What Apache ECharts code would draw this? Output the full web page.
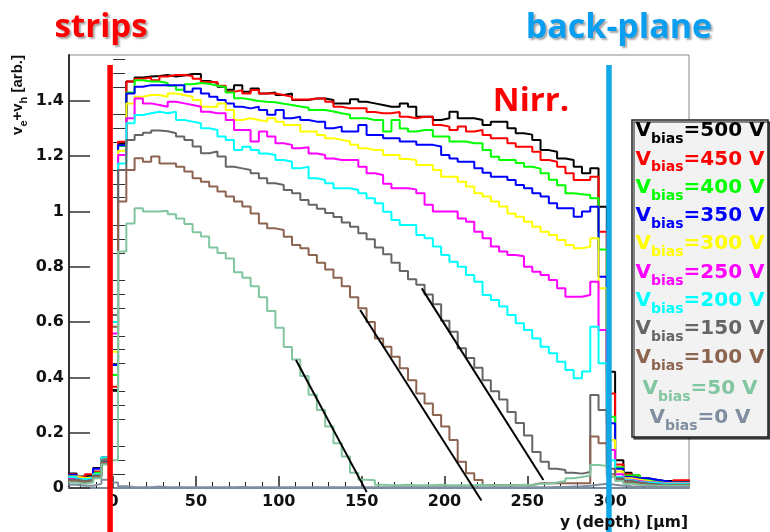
<!DOCTYPE html>
<html><head><meta charset="utf-8">
<script src="https://cdn.jsdelivr.net/npm/echarts@6/dist/echarts.min.js"></script>
<style>html,body{margin:0;padding:0;background:#fff}#c{width:770px;height:532px}</style>
</head><body><div id="c"></div>
<script>
// ---- data ----
const binStart = -27;   // left edge of first bin [um]
const binWidth = 5;     // bin width [um]
const voltages = [500, 450, 400, 350, 300, 250, 200, 150, 100, 50, 0];
const colors = ['#000000', '#ff0000', '#00ff00', '#0000ff', '#ffff00', '#ff00ff', '#00ffff', '#666666', '#8c6450', '#82c6a0', '#7f8fa0'];

const v500 = [0.052,0.042,0.045,0.072,0.110, 0.354,1.245,
1.470,1.485,1.488,1.490,1.494,1.488,1.492,1.497,1.497,
1.472,1.465,1.451,1.440,1.457,1.433,1.445,1.427,1.430,
1.421,1.427,1.403,1.403,1.409,1.409,1.403,1.391,1.391,
1.406,1.397,1.391,1.385,1.379,1.379,1.391,1.379,1.343,1.343,
1.331,1.337,1.361,1.337,1.337,1.331,1.313,1.325,1.325,1.301,
1.283,1.278,1.259,1.222,1.216,1.192,1.186,1.162,1.138,1.156,
1.017,0.420,
0.100,0.055,0.045,0.035,0.030,0.025,0.025,0.025,0.025];
const v450 = [0.050,0.040,0.050,0.060,0.105, 0.366,1.252,
1.470,1.480,1.485,1.475,1.488,1.494,1.494,1.490,1.480,
1.468,1.468,1.455,1.433,1.439,1.427,1.439,1.427,1.427,
1.421,1.415,1.405,1.405,1.409,1.409,1.397,1.379,1.373,
1.373,1.373,1.360,1.355,1.355,1.360,1.343,1.337,1.343,1.343,
1.313,1.307,1.295,1.307,1.289,1.295,1.277,1.265,1.265,1.247,
1.234,1.234,1.216,1.186,1.180,1.162,1.138,1.114,1.114,1.126,
0.927,0.342,
0.085,0.050,0.040,0.030,0.025,0.022,0.020,0.028,0.028];
const v400 = [0.045,0.035,0.040,0.055,0.100, 0.409,1.237,
1.430,1.475,1.470,1.470,1.465,1.455,1.440,1.460,1.465,
1.462,1.455,1.450,1.430,1.410,1.405,1.400,1.397,1.395,
1.390,1.385,1.380,1.375,1.367,1.367,1.362,1.355,1.350,
1.337,1.337,1.331,1.331,1.289,1.331,1.300,1.289,1.295,1.295,
1.271,1.271,1.253,1.253,1.247,1.247,1.222,1.198,1.186,1.186,
1.175,1.162,1.155,1.138,1.115,1.095,1.066,1.062,1.060,1.048,
0.863,0.258,
0.075,0.045,0.045,0.030,0.025,0.020,0.020,0.020,0.020];
const v350 = [0.048,0.035,0.040,0.070,0.095, 0.445,1.240,
1.427,1.451,1.457,1.457,1.457,1.457,1.457,1.433,1.445,
1.427,1.415,1.403,1.391,1.379,1.373,1.379,1.367,1.350,
1.367,1.337,1.343,1.331,1.325,1.325,1.301,1.307,1.289,
1.289,1.313,1.277,1.277,1.265,1.265,1.253,1.253,1.241,1.241,
1.235,1.204,1.192,1.180,1.180,1.156,1.140,1.126,1.126,1.114,
1.096,1.084,1.066,1.054,1.030,1.012,1.012,0.981,1.000,1.017,
0.764,0.234,
0.070,0.040,0.035,0.035,0.030,0.025,0.020,0.020,0.020];
const v300 = [0.042,0.035,0.038,0.050,0.100, 0.493,1.220,
1.391,1.415,1.421,1.421,1.415,1.427,1.421,1.415,1.403,
1.379,1.379,1.391,1.367,1.331,1.337,1.331,1.325,1.337,
1.325,1.313,1.313,1.289,1.289,1.277,1.265,1.259,1.253,
1.241,1.229,1.222,1.222,1.204,1.204,1.190,1.186,1.168,1.168,
1.150,1.126,1.126,1.108,1.090,1.066,1.054,1.036,1.018,0.993,
0.981,0.963,0.945,0.927,0.915,0.897,0.879,0.867,0.873,0.903,
0.722,0.174,
0.060,0.035,0.030,0.025,0.020,0.018,0.018,0.018,0.018];
const v250 = [0.035,0.030,0.032,0.045,0.090, 0.559,1.204,
1.337,1.409,1.391,1.385,1.379,1.397,1.391,1.385,1.379,
1.361,1.355,1.355,1.331,1.295,1.295,1.253,1.289,1.271,
1.247,1.241,1.229,1.232,1.210,1.204,1.192,1.186,1.186,
1.186,1.162,1.138,1.132,1.100,1.084,1.084,1.080,1.066,1.024,
1.000,1.000,1.000,0.975,0.963,0.927,0.903,0.873,0.855,0.843,
0.838,0.800,0.782,0.770,0.752,0.722,0.692,0.692,0.698,0.746,
0.571,0.137,
0.050,0.030,0.025,0.022,0.020,0.016,0.016,0.016,0.016];
const v200 = [0.040,0.032,0.035,0.050,0.110, 0.600,1.174,
1.319,1.349,1.355,1.361,1.355,1.361,1.331,1.325,1.319,
1.301,1.295,1.271,1.259,1.222,1.234,1.222,1.210,1.204,
1.186,1.180,1.156,1.162,1.120,1.114,1.102,1.084,1.084,
1.078,1.066,1.048,1.030,0.999,0.969,0.951,0.951,0.915,0.903,
0.873,0.843,0.818,0.800,0.770,0.746,0.698,0.680,0.656,0.626,
0.596,0.571,0.541,0.511,0.487,0.457,0.427,0.397,0.421,0.583,
0.451,0.100,
0.040,0.028,0.022,0.020,0.018,0.015,0.015,0.015,0.015];
const v150 = [0.030,0.025,0.030,0.045,0.100, 0.626,1.150,
1.259,1.277,1.285,1.293,1.290,1.283,1.271,1.259,1.235,
1.211,1.217,1.199,1.162,1.156,1.150,1.138,1.120,1.102,
1.096,1.078,1.066,1.042,1.024,1.010,0.995,0.980,0.960,
0.945,0.921,0.900,0.870,0.845,0.815,0.785,0.755,0.735,0.700,
0.665,0.605,0.565,0.505,0.470,0.435,0.390,0.350,0.320,0.275,
0.235,0.190,0.130,0.095,0.070,0.065,0.055,0.052,0.058,0.336,
0.282,0.070,
0.035,0.025,0.020,0.016,0.014,0.012,0.012,0.012,0.012];
const v100 = [0.025,0.020,0.025,0.040,0.090, 0.583,1.036,
1.150,1.193,1.180,1.199,1.174,1.174,1.162,1.145,1.120,
1.108,1.090,1.072,1.054,1.036,1.018,0.993,0.957,0.939,
0.933,0.909,0.879,0.867,0.843,0.815,0.790,0.760,0.730,
0.690,0.650,0.600,0.541,0.511,0.475,0.433,0.390,0.342,0.306,
0.264,0.222,0.174,0.095,0.053,0.029,0.011,0.011,0.011,0.011,
0.011,0.011,0.017,0.017,0.017,0.017,0.017,0.017,0.017,0.186,
0.162,0.050,
0.030,0.020,0.015,0.012,0.010,0.010,0.010,0.010,0.010];
const v50 = [0.020,0.015,0.020,0.035,0.085, 0.100,0.855,
0.957,1.012,1.000,1.000,1.003,0.990,0.975,0.955,0.925,
0.910,0.870,0.850,0.830,0.780,0.760,0.730,0.690,0.640,
0.580,0.510,0.465,0.405,0.337,0.282,0.222,0.162,0.114,
0.055,0.030,0.028,0.012,0.010,0.010,0.012,0.010,0.010,0.010,
0.012,0.010,0.010,0.010,0.010,0.012,0.010,0.010,0.010,0.010,
0.012,0.010,0.015,0.015,0.020,0.025,0.035,0.040,0.045,0.083,
0.080,0.040,
0.025,0.015,0.012,0.010,0.008,0.008,0.008,0.008,0.008];
const v0 = [0.012,0.008,0.008,0.015,0.030, 0.020,0.006,
0.004,0.003,0.003,0.005,0.003,0.003,0.003,0.003,0.003,
0.003,0.003,0.003,0.003,0.004,0.003,0.003,0.003,0.003,
0.003,0.003,0.003,0.003,0.003,0.003,0.003,0.003,0.003,
0.003,0.003,0.003,0.003,0.003,0.003,0.003,0.003,0.003,0.003,
0.003,0.003,0.003,0.003,0.003,0.003,0.003,0.003,0.003,0.003,
0.003,0.003,0.003,0.003,0.004,0.004,0.005,0.006,0.008,0.012,
0.015,0.012,
0.008,0.006,0.005,0.005,0.004,0.004,0.004,0.004,0.004];

// straight-line fits drawn on the falling edges [x, y]
const fit1 = [[110.4, 0.463], [153.1, -0.015]];
const fit2 = [[149.1, 0.644], [222.3, -0.045]];
const fit3 = [[186.3, 0.722], [259.7, 0.029]];

// electrode positions [um] and vertical extent of the marker lines
const stripsX = -1.8;
const backplaneX = 299.3;
const markerY = [1.53, -0.16];

const xTickLabels = [0, 50, 100, 150, 200, 250, 300];
const yTickLabels = [0, 0.2, 0.4, 0.6, 0.8, 1, 1.2, 1.4];

// ---- chart ----
const hists = [v500, v450, v400, v350, v300, v250, v200, v150, v100, v50, v0];
const xMin = -26.6, xMax = 347.6, yMin = 0, yMax = 1.566;

function histData(vals) {
  const d = vals.map((v, i) => [binStart + i * binWidth, v]);
  d.push([binStart + vals.length * binWidth, vals[vals.length - 1]]);
  return d;
}
const xMinor = [];
for (let t = -20; t <= 340; t += 10) if (t % 50 !== 0) xMinor.push(t);
const yMinor = [];
for (let k = 1; k <= 31; k++) if (k % 4 !== 0) yMinor.push(+(k * 0.05).toFixed(2));

const tickFont = { fontFamily: 'DejaVu Sans', fontWeight: 'bold', fontSize: 16, color: '#111' };

const series = hists.map((vals, i) => ({
  type: 'line', step: 'end', data: histData(vals), symbol: 'none',
  lineStyle: { color: colors[i], width: 2 }, itemStyle: { color: colors[i] },
  animation: false, z: 2 + i * 0.01
}));
[fit1, fit2, fit3].forEach(f => series.push({
  type: 'line', data: f, symbol: 'none', clip: false,
  lineStyle: { color: '#000', width: 2 }, animation: false, z: 3
}));
series.push({
  type: 'line', data: [[stripsX, markerY[0]], [stripsX, markerY[1]]], symbol: 'none', clip: false,
  lineStyle: { color: '#ff0000', width: 5.5 }, animation: false, z: 4
});
series.push({
  type: 'line', data: [[backplaneX, markerY[0]], [backplaneX, markerY[1]]], symbol: 'none', clip: false,
  lineStyle: { color: '#12a8e8', width: 5.5 }, animation: false, z: 4
});

// legend graphics
const legendY = [120, 148.5, 177, 205, 233, 262, 290, 318, 347, 378, 407];
const legendEls = [{
  type: 'rect', shape: { x: 632, y: 120, width: 136, height: 317 },
  style: { fill: '#f2f2f2', stroke: '#222', lineWidth: 1.5, shadowColor: 'rgba(0,0,0,0.6)', shadowOffsetX: 2, shadowOffsetY: 2, shadowBlur: 0 },
  z: 10
}];
voltages.forEach((v, i) => {
  const base = { fontFamily: 'DejaVu Sans', fontWeight: 'bold', fill: colors[i] };
  legendEls.push({
    type: 'text', x: 700, y: legendY[i] + 1, z: 11,
    style: {
      text: '{V|V}{s|bias}{t|=' + v + ' V}', align: 'center', verticalAlign: 'top',
      rich: {
        V: Object.assign({ fontSize: 20, lineHeight: 22, verticalAlign: 'top' }, base),
        s: Object.assign({ fontSize: 14, lineHeight: 14, padding: [11, 0, 0, 0], verticalAlign: 'top' }, base),
        t: Object.assign({ fontSize: 20, lineHeight: 22, verticalAlign: 'top' }, base)
      }
    }
  });
});

const shadow = { textShadowColor: 'rgba(0,0,0,0.35)', textShadowOffsetX: 2, textShadowOffsetY: 2, textShadowBlur: 2 };
const graphics = legendEls.concat([
  { type: 'text', x: 101, y: 28, z: 12, style: Object.assign({ text: 'strips', fill: '#ff0000', fontFamily: 'Open Sans', fontWeight: 'bold', fontSize: 33, align: 'center', verticalAlign: 'middle' }, shadow) },
  { type: 'text', x: 619, y: 28, z: 12, style: Object.assign({ text: 'back-plane', fill: '#0a9ef0', fontFamily: 'Open Sans', fontWeight: 'bold', fontSize: 34, align: 'center', verticalAlign: 'middle' }, shadow) },
  { type: 'text', x: 531, y: 102, z: 12, style: { text: 'Nirr.', fill: '#ff0000', fontFamily: 'Open Sans', fontWeight: 'bold', fontSize: 33, align: 'center', verticalAlign: 'middle' } },
  { type: 'text', x: 688, y: 515, z: 12, style: { text: 'y (depth) [\u00b5m]', fill: '#111', fontFamily: 'DejaVu Sans', fontWeight: 'bold', fontSize: 15.5, align: 'right', verticalAlign: 'top' } },
  { type: 'text', x: 18, y: 55, rotation: Math.PI / 2, z: 12,
    style: {
      text: '{a|v}{s|e}{a|+v}{s|h}{a| [arb.]}', align: 'right', verticalAlign: 'middle',
      rich: {
        a: { fontFamily: 'Liberation Sans', fontWeight: 'bold', fontSize: 15, lineHeight: 16, verticalAlign: 'top', fill: '#111' },
        s: { fontFamily: 'Liberation Sans', fontWeight: 'bold', fontSize: 11, lineHeight: 11, padding: [8, 0, 0, 0], verticalAlign: 'top', fill: '#111' }
      }
    } }
]);

const chart = echarts.init(document.getElementById('c'));
chart.setOption({
  animation: false,
  backgroundColor: '#fff',
  grid: { left: 69, top: 55, right: 81, bottom: 44, show: true, borderColor: '#888', borderWidth: 1, backgroundColor: 'transparent' },
  xAxis: [
    { type: 'value', min: xMin, max: xMax, splitLine: { show: false },
      axisLine: { show: true, onZero: false, lineStyle: { color: '#7a8a9a', width: 2 } },
      axisTick: { show: true, inside: true, length: 12, customValues: xTickLabels, lineStyle: { color: '#222', width: 1.5 } },
      axisLabel: Object.assign({ show: true, margin: 6, customValues: xTickLabels }, tickFont) },
    { type: 'value', min: xMin, max: xMax, position: 'bottom', splitLine: { show: false },
      axisLine: { show: false }, axisLabel: { show: false },
      axisTick: { show: true, inside: true, length: 6, customValues: xMinor, lineStyle: { color: '#222', width: 1 } } }
  ],
  yAxis: [
    { type: 'value', min: yMin, max: yMax, splitLine: { show: false },
      axisLine: { show: true, onZero: false, lineStyle: { color: '#333', width: 2 } },
      axisTick: { show: true, inside: true, length: 21, customValues: yTickLabels, lineStyle: { color: '#333', width: 1.5 } },
      axisLabel: Object.assign({ show: true, margin: 5, customValues: yTickLabels, formatter: v => String(parseFloat((+v).toFixed(2))) }, tickFont) },
    { type: 'value', min: yMin, max: yMax, position: 'left', splitLine: { show: false },
      axisLine: { show: false }, axisLabel: { show: false },
      axisTick: { show: true, inside: true, length: 12, customValues: yMinor, lineStyle: { color: '#333', width: 1 } } }
  ],
  series: series,
  graphic: graphics
});
</script>
</body></html>
